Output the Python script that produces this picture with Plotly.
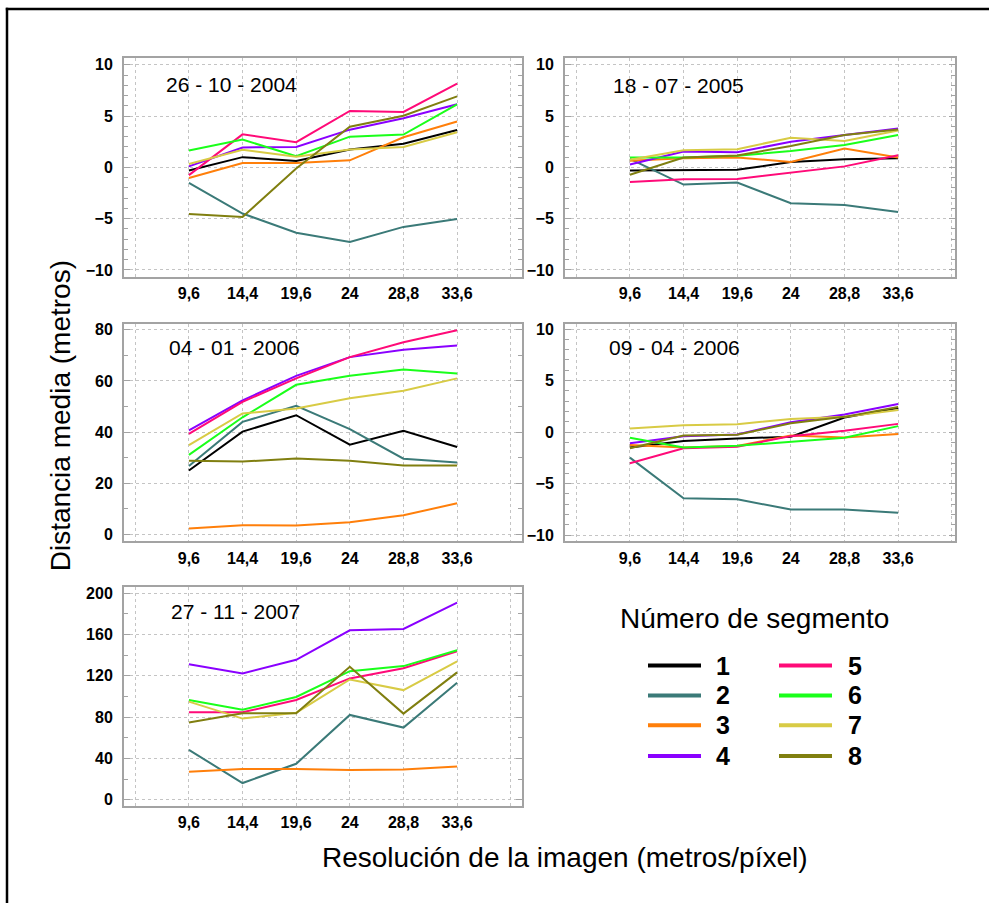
import plotly.graph_objects as go

# Canvas size (px)
W, H = 989, 906

# Image resolution (metres/pixel) shown on every x axis
RESOLUCION = ["9,6", "14,4", "19,6", "24", "28,8", "33,6"]
SEGMENTOS = ["1", "2", "3", "4", "5", "6", "7", "8"]
COLORES = ["#000000", "#3b7a78", "#ff7f0a", "#8a00ff",
           "#ff0a78", "#1aff1a", "#d8cb45", "#807f10"]

FECHAS = ["26 - 10 - 2004", "18 - 07 - 2005", "04 - 01 - 2006",
          "09 - 04 - 2006", "27 - 11 - 2007"]

# Mean distance (m) per segment, one row per segment 1..8
d_20041026 = [
    [-0.3, 1.0, 0.63, 1.75, 2.3, 3.64],
    [-1.5, -4.5, -6.37, -7.27, -5.8, -5.02],
    [-1.04, 0.43, 0.43, 0.69, 2.94, 4.48],
    [0.1, 1.94, 2.0, 3.68, 4.8, 6.15],
    [-0.75, 3.22, 2.46, 5.5, 5.4, 8.17],
    [1.65, 2.71, 1.1, 3.0, 3.2, 6.15],
    [0.34, 1.72, 1.04, 1.75, 2.0, 3.42],
    [-4.54, -4.83, -0.1, 3.96, 5.03, 6.92],
]
d_20050718 = [
    [-0.3, -0.3, -0.23, 0.52, 0.8, 0.9],
    [0.84, -1.67, -1.48, -3.5, -3.67, -4.35],
    [0.64, 0.9, 0.97, 0.52, 1.84, 0.97],
    [0.29, 1.55, 1.48, 2.5, 3.16, 3.8],
    [-1.42, -1.16, -1.13, -0.55, 0.1, 1.19],
    [0.97, 0.97, 1.13, 1.6, 2.19, 3.16],
    [0.74, 1.67, 1.77, 2.9, 2.58, 3.6],
    [-0.71, 0.97, 1.16, 2.09, 3.16, 3.7],
]
d_20060104 = [
    [25.0, 40.2, 46.6, 35.1, 40.5, 34.2],
    [26.8, 44.0, 50.3, 41.2, 29.6, 28.1],
    [2.3, 3.6, 3.5, 4.8, 7.5, 12.2],
    [40.7, 52.4, 62.0, 69.3, 72.2, 73.8],
    [39.3, 51.8, 61.0, 69.3, 75.1, 79.8],
    [31.1, 45.8, 58.5, 62.0, 64.5, 62.9],
    [34.9, 47.3, 49.2, 53.2, 56.2, 61.0],
    [28.8, 28.5, 29.7, 28.8, 27.0, 27.0],
]
d_20060409 = [
    [-1.5, -0.87, -0.61, -0.45, 1.41, 2.34],
    [-2.47, -6.42, -6.52, -7.51, -7.51, -7.83],
    [-1.25, -1.48, -1.35, -0.32, -0.51, -0.19],
    [-1.09, -0.39, -0.22, 0.96, 1.7, 2.73],
    [-3.02, -1.57, -1.41, -0.39, 0.13, 0.8],
    [-0.55, -1.5, -1.32, -0.9, -0.55, 0.58],
    [0.35, 0.67, 0.77, 1.28, 1.48, 2.15],
    [-1.57, -0.32, -0.26, 0.87, 1.48, 2.44],
]
d_20071127 = [
    [None, None, None, None, None, None],
    [48.2, 16.1, 34.7, 82.0, 69.8, 113.2],
    [27.0, 29.6, 29.6, 28.6, 29.3, 32.2],
    [131.2, 122.2, 135.4, 164.0, 165.3, 190.7],
    [84.6, 84.6, 96.5, 117.4, 127.3, 143.7],
    [96.5, 87.1, 99.4, 124.4, 129.3, 144.7],
    [94.9, 78.5, 84.2, 116.4, 106.1, 133.8],
    [74.6, 83.6, 83.6, 128.6, 83.3, 123.2],
]
PANELES = [d_20041026, d_20050718, d_20060104, d_20060409, d_20071127]

# Panel boxes in pixels: (left, right, top, bottom)
CAJAS = [(124, 522, 55, 276), (565, 955, 55, 276),
         (124, 522, 323, 542), (565, 955, 323, 542),
         (124, 522, 588, 808)]
X_RANGOS = [[-0.21, 7.21], [-0.21, 7.06], [-0.21, 7.21], [-0.21, 7.06], [-0.21, 7.21]]
Y_RANGOS = [[-10.7, 10.7], [-10.7, 10.7], [-2.7, 82.3], [-10.6, 10.5], [-5.8, 205.8]]
Y_DTICK = [5, 5, 20, 5, 40]
Y_MINOR = [1, 1, 10, 1, 20]
# Date label positions (left x, centre y) in pixels
FECHA_POS = [(164, 82), (611, 83), (167, 347), (607, 347), (169, 613)]

FONT = "Arial, 'Liberation Sans', sans-serif"
AXIS_GRAY = "#a3a3a3"
GRID_GRAY = "#c4c4c4"


def fx(px):
    return px / W


def fy(py):
    return 1 - py / H


fig = go.Figure()
pos = list(range(1, len(RESOLUCION) + 1))

for i, datos in enumerate(PANELES):
    n = i + 1
    for s, serie in enumerate(datos):
        fig.add_trace(go.Scatter(
            x=pos, y=serie, mode="lines",
            line=dict(color=COLORES[s], width=2),
            name=SEGMENTOS[s], showlegend=False,
            xaxis=f"x{n}", yaxis=f"y{n}",
        ))

    l, r, t, b = CAJAS[i]
    xa = dict(
        domain=[fx(l), fx(r)], range=X_RANGOS[i], anchor=f"y{n}",
        tickmode="array", tickvals=list(range(0, len(RESOLUCION) + 2)),
        ticktext=[""] + RESOLUCION + [""],
        showgrid=True, gridcolor=GRID_GRAY, griddash="dot", gridwidth=1,
        showline=True, linecolor=AXIS_GRAY, linewidth=2, mirror=True,
        ticks="", zeroline=False, ticklabelstandoff=1,
        tickfont=dict(family=FONT, size=16, color="#000", weight=700),
    )
    ya = dict(
        domain=[fy(b), fy(t)], range=Y_RANGOS[i], anchor=f"x{n}",
        tick0=0, dtick=Y_DTICK[i],
        ticks="inside", ticklen=6, tickwidth=1, tickcolor=AXIS_GRAY,
        minor=dict(dtick=Y_MINOR[i], tick0=0, ticks="inside", ticklen=4,
                   tickwidth=1, tickcolor=AXIS_GRAY, showgrid=False),
        showgrid=True, gridcolor=GRID_GRAY, griddash="dot", gridwidth=1,
        showline=True, linecolor=AXIS_GRAY, linewidth=2, mirror="allticks",
        zeroline=False, ticklabelstandoff=6,
        tickfont=dict(family=FONT, size=16, color="#000", weight=700),
    )
    fig.layout[f"xaxis{n}" if n > 1 else "xaxis"] = xa
    fig.layout[f"yaxis{n}" if n > 1 else "yaxis"] = ya

    fx0, fy0 = FECHA_POS[i]
    fig.add_annotation(
        x=fx(fx0), y=fy(fy0), xref="paper", yref="paper",
        xanchor="left", yanchor="middle", showarrow=False,
        text=FECHAS[i], font=dict(family=FONT, size=21, color="#000"),
    )

# Axis titles
fig.add_annotation(
    x=fx(565), y=fy(860), xref="paper", yref="paper", showarrow=False,
    xanchor="center", yanchor="middle",
    text="Resolución de la imagen (metros/píxel)",
    font=dict(family=FONT, size=28, color="#000"),
)
fig.add_annotation(
    x=fx(60), y=fy(416), xref="paper", yref="paper", showarrow=False,
    xanchor="center", yanchor="middle", textangle=-90,
    text="Distancia media (metros)",
    font=dict(family=FONT, size=28, color="#000"),
)

# Segment key
fig.add_annotation(
    x=fx(754), y=fy(620), xref="paper", yref="paper", showarrow=False,
    xanchor="center", yanchor="middle", text="Número de segmento",
    font=dict(family=FONT, size=28, color="#000"),
)
KEY_ROWS = [667, 697, 727, 758]
KEY_COLS = [(648, 701, 723), (779, 832, 855)]
for s, seg in enumerate(SEGMENTOS):
    x0, x1, xt = KEY_COLS[s // 4]
    yk = KEY_ROWS[s % 4]
    fig.add_shape(type="line", xref="paper", yref="paper",
                  x0=fx(x0), x1=fx(x1), y0=fy(yk), y1=fy(yk),
                  line=dict(color=COLORES[s], width=4))
    fig.add_annotation(
        x=fx(xt), y=fy(yk), xref="paper", yref="paper", showarrow=False,
        xanchor="center", yanchor="middle", text=seg,
        font=dict(family=FONT, size=25, color="#000", weight=700),
    )

# Outer frame: only the top and left edges lie on the canvas
fig.add_shape(type="line", xref="paper", yref="paper",
              x0=fx(5.8), x1=1, y0=fy(6), y1=fy(6),
              line=dict(color="#000", width=2.5))
fig.add_shape(type="line", xref="paper", yref="paper",
              x0=fx(7), x1=fx(7), y0=fy(4.8), y1=0,
              line=dict(color="#000", width=2.5))

fig.update_layout(
    width=W, height=H, margin=dict(l=0, r=0, t=0, b=0),
    paper_bgcolor="white", plot_bgcolor="white", showlegend=False,
)

fig.write_html("out.html")
